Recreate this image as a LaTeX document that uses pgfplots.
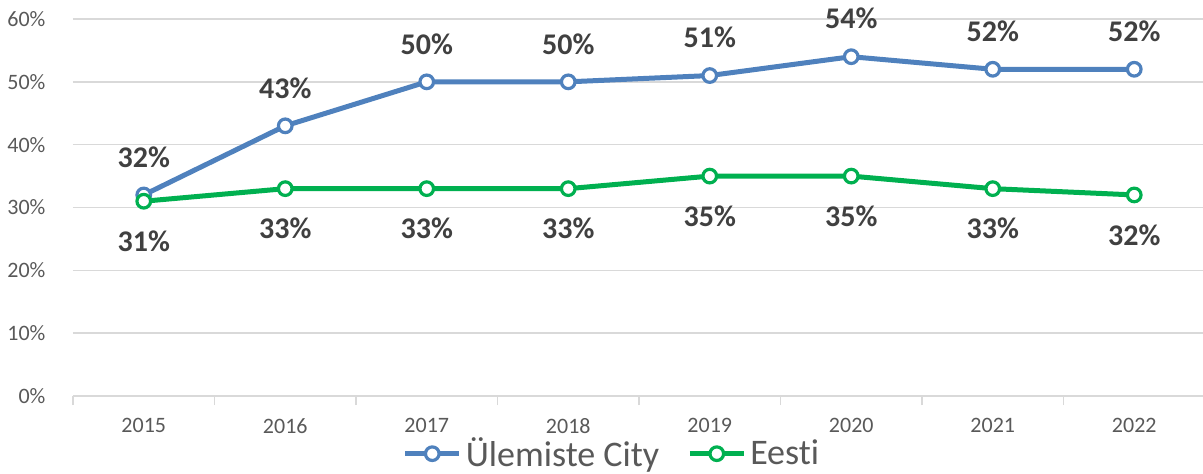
\documentclass[border=0pt]{standalone}
\usepackage{fontspec}
\setmainfont{Carlito}[Ligatures={NoCommon}]
\usepackage{pgfplots}
\pgfplotsset{compat=1.18}
\usetikzlibrary{calc}

\definecolor{ucblue}{HTML}{4F81BD}
\definecolor{eegreen}{HTML}{00B050}
\definecolor{gridgray}{HTML}{D9D9D9}
\definecolor{ticktext}{HTML}{595959}
\definecolor{labeltext}{HTML}{404040}

\begin{document}
\begin{tikzpicture}
\begin{axis}[
    name=ax,
    scale only axis,
    width=566pt,
    height=188.5pt,
    xmin=-0.5, xmax=7.5,
    ymin=0, ymax=60,
    clip=false,
    axis lines*=left,
    y axis line style={draw=none},
    x axis line style={draw=gridgray, line width=0.8pt},
    xtick={0,...,7},
    xticklabels={2015,2016,2017,2018,2019,2020,2021,2022},
    minor xtick={-0.5,0.5,...,7.5},
    major x tick style={draw=none},
    minor x tick style={draw=gridgray, line width=0.8pt},
    minor tick length=4.5pt,
    tick align=outside,
    ytick={0,10,...,60},
    yticklabels={0\%,10\%,20\%,30\%,40\%,50\%,60\%},
    major y tick style={draw=none},
    ymajorgrids,
    grid style={draw=gridgray, line width=0.8pt},
    tick label style={font=\fontsize{11}{13}\selectfont, text=ticktext},
    yticklabel style={xshift=-6pt},
    xticklabel style={yshift=-3.5pt},
    /pgf/number format/assume math mode=true,
    legend columns=2,
    legend style={draw=none, fill=none, at={(axis description cs:0.477,-0.153)}, anchor=center,
        font=\fontsize{18}{20}\selectfont, text=ticktext, inner sep=0pt,
        /tikz/every even column/.append style={column sep=12pt}},
    legend image code/.code={
        \draw[#1, mark=none] (0pt,0pt) -- (27pt,0pt);
        \draw[#1, only marks] plot coordinates {(13.5pt,0pt)};
    },
    nodes near coords={\pgfmathprintnumber{\pgfplotspointmeta}\%},
    every node near coord/.append style={font=\bfseries\fontsize{15}{17}\selectfont, text=labeltext, anchor=center},
]
\addplot[color=ucblue, line width=2.5pt, mark=*, mark size=3.4pt,
    mark options={fill=white, draw=ucblue, line width=1.6pt},
    every node near coord/.append style={yshift=19pt}]
coordinates {
    (0,32) (1,43) (2,50) (3,50) (4,51) (5,54) (6,52) (7,52)
};
\addlegendentry{Ülemiste City}
\addplot[color=eegreen, line width=2.5pt, mark=*, mark size=3.4pt,
    mark options={fill=white, draw=eegreen, line width=1.6pt},
    every node near coord/.append style={yshift=-20pt}]
coordinates {
    (0,31) (1,33) (2,33) (3,33) (4,35) (5,35) (6,33) (7,32)
};
\addlegendentry{Eesti}
\end{axis}
\pgfresetboundingbox
\path ($(ax.south west)+(-36.5pt,-38.5pt)$) rectangle ($(ax.south west)+(565pt,198pt)$);
\end{tikzpicture}
\end{document}
